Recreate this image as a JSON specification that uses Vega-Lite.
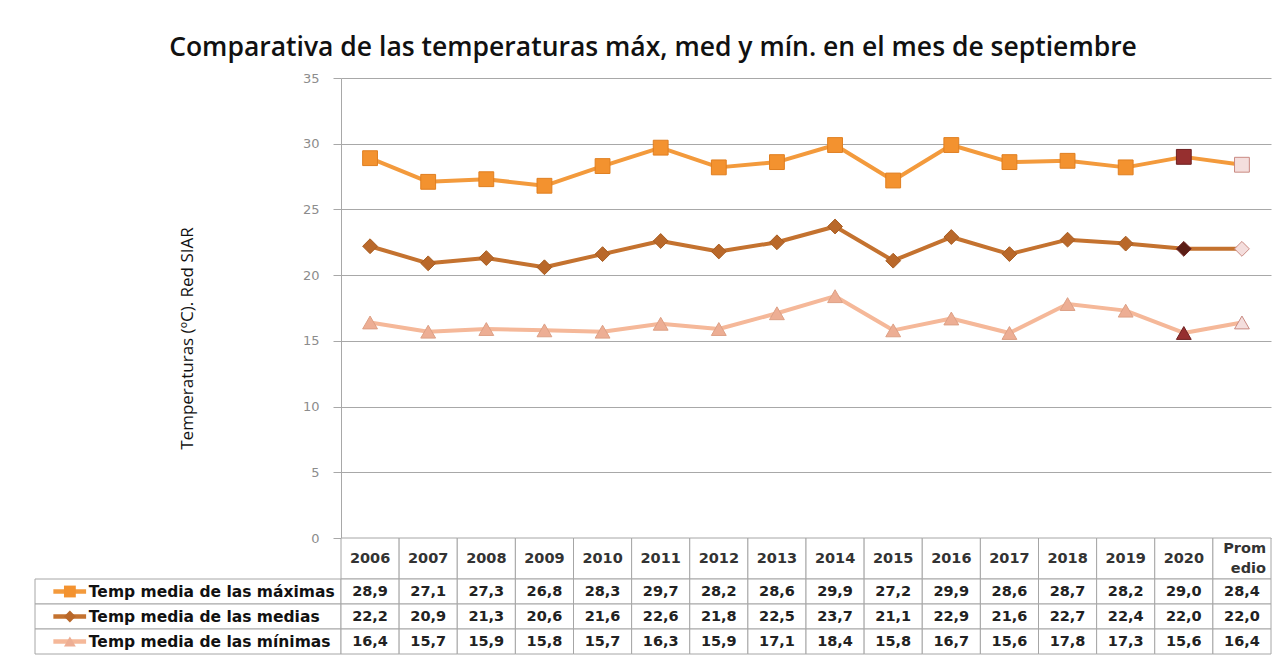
{
  "$schema": "https://vega.github.io/schema/vega-lite/v6.json",
  "background": "white",
  "padding": {"left": 34, "top": 34, "right": 8, "bottom": 4},
  "title": {"text": "Comparativa de las temperaturas máx, med y mín. en el mes de septiembre", "font": "Open Sans", "fontSize": 26.5, "fontWeight": 600, "color": "#111111", "anchor": "middle", "offset": 11},
  "config": {
    "view": {"stroke": null},
    "locale": {"number": {"decimal": ",", "thousands": ".", "grouping": [3], "currency": ["", " €"]}}
  },
  "datasets": {
    "series": [
      {"serie": "Temp media de las máximas"},
      {"serie": "Temp media de las medias"},
      {"serie": "Temp media de las mínimas"}
    ],
    "temps": [
      {"anio": "2006", "serie": "Temp media de las máximas", "valor": 28.9},
      {"anio": "2007", "serie": "Temp media de las máximas", "valor": 27.1},
      {"anio": "2008", "serie": "Temp media de las máximas", "valor": 27.3},
      {"anio": "2009", "serie": "Temp media de las máximas", "valor": 26.8},
      {"anio": "2010", "serie": "Temp media de las máximas", "valor": 28.3},
      {"anio": "2011", "serie": "Temp media de las máximas", "valor": 29.7},
      {"anio": "2012", "serie": "Temp media de las máximas", "valor": 28.2},
      {"anio": "2013", "serie": "Temp media de las máximas", "valor": 28.6},
      {"anio": "2014", "serie": "Temp media de las máximas", "valor": 29.9},
      {"anio": "2015", "serie": "Temp media de las máximas", "valor": 27.2},
      {"anio": "2016", "serie": "Temp media de las máximas", "valor": 29.9},
      {"anio": "2017", "serie": "Temp media de las máximas", "valor": 28.6},
      {"anio": "2018", "serie": "Temp media de las máximas", "valor": 28.7},
      {"anio": "2019", "serie": "Temp media de las máximas", "valor": 28.2},
      {"anio": "2020", "serie": "Temp media de las máximas", "valor": 29.0},
      {"anio": "Promedio", "serie": "Temp media de las máximas", "valor": 28.4},
      {"anio": "2006", "serie": "Temp media de las medias", "valor": 22.2},
      {"anio": "2007", "serie": "Temp media de las medias", "valor": 20.9},
      {"anio": "2008", "serie": "Temp media de las medias", "valor": 21.3},
      {"anio": "2009", "serie": "Temp media de las medias", "valor": 20.6},
      {"anio": "2010", "serie": "Temp media de las medias", "valor": 21.6},
      {"anio": "2011", "serie": "Temp media de las medias", "valor": 22.6},
      {"anio": "2012", "serie": "Temp media de las medias", "valor": 21.8},
      {"anio": "2013", "serie": "Temp media de las medias", "valor": 22.5},
      {"anio": "2014", "serie": "Temp media de las medias", "valor": 23.7},
      {"anio": "2015", "serie": "Temp media de las medias", "valor": 21.1},
      {"anio": "2016", "serie": "Temp media de las medias", "valor": 22.9},
      {"anio": "2017", "serie": "Temp media de las medias", "valor": 21.6},
      {"anio": "2018", "serie": "Temp media de las medias", "valor": 22.7},
      {"anio": "2019", "serie": "Temp media de las medias", "valor": 22.4},
      {"anio": "2020", "serie": "Temp media de las medias", "valor": 22.0},
      {"anio": "Promedio", "serie": "Temp media de las medias", "valor": 22.0},
      {"anio": "2006", "serie": "Temp media de las mínimas", "valor": 16.4},
      {"anio": "2007", "serie": "Temp media de las mínimas", "valor": 15.7},
      {"anio": "2008", "serie": "Temp media de las mínimas", "valor": 15.9},
      {"anio": "2009", "serie": "Temp media de las mínimas", "valor": 15.8},
      {"anio": "2010", "serie": "Temp media de las mínimas", "valor": 15.7},
      {"anio": "2011", "serie": "Temp media de las mínimas", "valor": 16.3},
      {"anio": "2012", "serie": "Temp media de las mínimas", "valor": 15.9},
      {"anio": "2013", "serie": "Temp media de las mínimas", "valor": 17.1},
      {"anio": "2014", "serie": "Temp media de las mínimas", "valor": 18.4},
      {"anio": "2015", "serie": "Temp media de las mínimas", "valor": 15.8},
      {"anio": "2016", "serie": "Temp media de las mínimas", "valor": 16.7},
      {"anio": "2017", "serie": "Temp media de las mínimas", "valor": 15.6},
      {"anio": "2018", "serie": "Temp media de las mínimas", "valor": 17.8},
      {"anio": "2019", "serie": "Temp media de las mínimas", "valor": 17.3},
      {"anio": "2020", "serie": "Temp media de las mínimas", "valor": 15.6},
      {"anio": "Promedio", "serie": "Temp media de las mínimas", "valor": 16.4}
    ]
  },
  "columns": 2,
  "spacing": 0,
  "bounds": "flush",
  "align": "each",
  "concat": [
    {"width": 306, "height": 460, "data": {"values": []}, "mark": "point"},
    {
      "width": 930,
      "height": 460,
      "data": {"name": "temps"},
      "encoding": {
        "x": {"field": "anio", "type": "nominal", "sort": null, "scale": {"domain": ["2006","2007","2008","2009","2010","2011","2012","2013","2014","2015","2016","2017","2018","2019","2020","Promedio"], "paddingInner": 0, "paddingOuter": 0}, "axis": null},
        "y": {"field": "valor", "type": "quantitative", "scale": {"domain": [0, 35], "nice": false},
          "axis": {"values": [0,5,10,15,20,25,30,35], "grid": true, "gridColor": "#a8a8a8", "gridWidth": 1, "domain": true, "domainColor": "#a8a8a8", "ticks": true, "tickSize": 8, "tickColor": "#a8a8a8", "labelFont": "DejaVu Sans", "labelFontSize": 13, "labelColor": "#8c8c8c", "labelPadding": 14, "title": "Temperaturas (ºC). Red SIAR", "titleFont": "Open Sans", "titleFontSize": 17, "titleFontWeight": "normal", "titleColor": "#111111", "titleX": -154, "titleY": 260, "titleAngle": -90, "titleAlign": "center", "titleBaseline": "middle"}}
      },
      "layer": [
        {
          "mark": {"type": "line", "strokeWidth": 4, "strokeJoin": "round"},
          "encoding": {"color": {"field": "serie", "type": "nominal", "scale": {"domain": ["Temp media de las máximas","Temp media de las medias","Temp media de las mínimas"], "range": ["#F39A3C","#C4722F","#F5B899"]}, "legend": null}}
        },
        {
          "mark": {"type": "point", "filled": true, "opacity": 1, "strokeWidth": 1},
          "encoding": {
            "shape": {"field": "serie", "type": "nominal", "scale": {"domain": ["Temp media de las máximas","Temp media de las medias","Temp media de las mínimas"], "range": ["square","diamond","triangle-up"]}, "legend": null},
            "size": {"field": "serie", "type": "nominal", "scale": {"domain": ["Temp media de las máximas","Temp media de las medias","Temp media de las mínimas"], "range": [220, 220, 180]}, "legend": null},
            "fill": {"condition": [{"test": "datum.anio === '2020' && datum.serie === 'Temp media de las medias'", "value": "#5B1E16"}, {"test": "datum.anio === '2020'", "value": "#962F2F"}, {"test": "datum.anio === 'Promedio'", "value": "#F4DEDD"}], "field": "serie", "type": "nominal", "scale": {"domain": ["Temp media de las máximas","Temp media de las medias","Temp media de las mínimas"], "range": ["#F3922F","#B9682A","#EDAE94"]}, "legend": null},
            "stroke": {"condition": [{"test": "datum.anio === '2020'", "value": "#6E2020"}, {"test": "datum.anio === 'Promedio'", "value": "#C98A82"}], "field": "serie", "type": "nominal", "scale": {"domain": ["Temp media de las máximas","Temp media de las medias","Temp media de las mínimas"], "range": ["#E07F20","#A85D22","#DDA085"]}, "legend": null}
          }
        }
      ]
    },
    {"width": 306, "height": 41, "data": {"values": []}, "mark": "point"},
    {
      "width": 930,
      "height": 41,
      "data": {"name": "temps"},
      "transform": [{"filter": "datum.serie === 'Temp media de las máximas'"}],
      "encoding": {
        "x": {"field": "anio", "type": "nominal", "sort": null, "scale": {"domain": ["2006","2007","2008","2009","2010","2011","2012","2013","2014","2015","2016","2017","2018","2019","2020","Promedio"], "paddingInner": 0, "paddingOuter": 0}, "axis": null}
      },
      "layer": [
        {"mark": {"type": "rect", "fill": "white", "stroke": "#a6a6a6", "strokeWidth": 1}},
        {"transform": [{"filter": "datum.anio !== 'Promedio'"}],
          "mark": {"type": "text", "font": "DejaVu Sans", "fontSize": 14.5, "fontWeight": "bold", "color": "#333333"},
          "encoding": {"text": {"field": "anio", "type": "nominal"}}},
        {"transform": [{"filter": "datum.anio === 'Promedio'"}],
          "mark": {"type": "text", "font": "DejaVu Sans", "fontSize": 14.5, "fontWeight": "bold", "color": "#333333", "align": "right", "dx": -5, "dy": -10, "lineHeight": 20},
          "encoding": {
            "x": {"field": "anio", "type": "nominal", "bandPosition": 1},
            "text": {"value": ["Prom", "edio"]}}}
      ]
    },
    {
      "width": 306,
      "height": 75,
      "data": {"name": "series"},
      "encoding": {
        "y": {"field": "serie", "type": "nominal", "sort": null, "scale": {"domain": ["Temp media de las máximas","Temp media de las medias","Temp media de las mínimas"], "paddingInner": 0, "paddingOuter": 0}, "axis": null}
      },
      "layer": [
        {"mark": {"type": "rect", "fill": "white", "stroke": "#a6a6a6", "strokeWidth": 1}},
        {"mark": {"type": "rule", "strokeWidth": 4.5},
          "encoding": {
            "x": {"datum": 0.06, "type": "quantitative", "scale": {"domain": [0, 1], "nice": false}, "axis": null},
            "x2": {"datum": 0.167},
            "color": {"field": "serie", "type": "nominal", "scale": {"domain": ["Temp media de las máximas","Temp media de las medias","Temp media de las mínimas"], "range": ["#F39A3C","#C4722F","#F5B899"]}, "legend": null}
          }},
        {"mark": {"type": "point", "filled": true, "opacity": 1, "size": 140},
          "encoding": {
            "x": {"datum": 0.114, "type": "quantitative"},
            "shape": {"field": "serie", "type": "nominal", "scale": {"domain": ["Temp media de las máximas","Temp media de las medias","Temp media de las mínimas"], "range": ["square","diamond","triangle-up"]}, "legend": null},
            "fill": {"field": "serie", "type": "nominal", "scale": {"domain": ["Temp media de las máximas","Temp media de las medias","Temp media de las mínimas"], "range": ["#F3922F","#B9682A","#EDAE94"]}, "legend": null}
          }},
        {"mark": {"type": "text", "align": "left", "font": "DejaVu Sans", "fontSize": 15.5, "fontWeight": "bold", "color": "#111111"},
          "encoding": {
            "x": {"datum": 0.176, "type": "quantitative"},
            "text": {"field": "serie", "type": "nominal"}
          }}
      ]
    },
    {
      "width": 930,
      "height": 75,
      "data": {"name": "temps"},
      "encoding": {
        "x": {"field": "anio", "type": "nominal", "sort": null, "scale": {"domain": ["2006","2007","2008","2009","2010","2011","2012","2013","2014","2015","2016","2017","2018","2019","2020","Promedio"], "paddingInner": 0, "paddingOuter": 0}, "axis": null},
        "y": {"field": "serie", "type": "nominal", "sort": null, "scale": {"domain": ["Temp media de las máximas","Temp media de las medias","Temp media de las mínimas"], "paddingInner": 0, "paddingOuter": 0}, "axis": null}
      },
      "layer": [
        {"mark": {"type": "rect", "fill": "white", "stroke": "#a6a6a6", "strokeWidth": 1}},
        {"mark": {"type": "text", "font": "DejaVu Sans", "fontSize": 14.5, "fontWeight": "bold", "color": "#222222"},
          "encoding": {"text": {"field": "valor", "type": "quantitative", "format": ".1f"}}}
      ]
    }
  ]
}
